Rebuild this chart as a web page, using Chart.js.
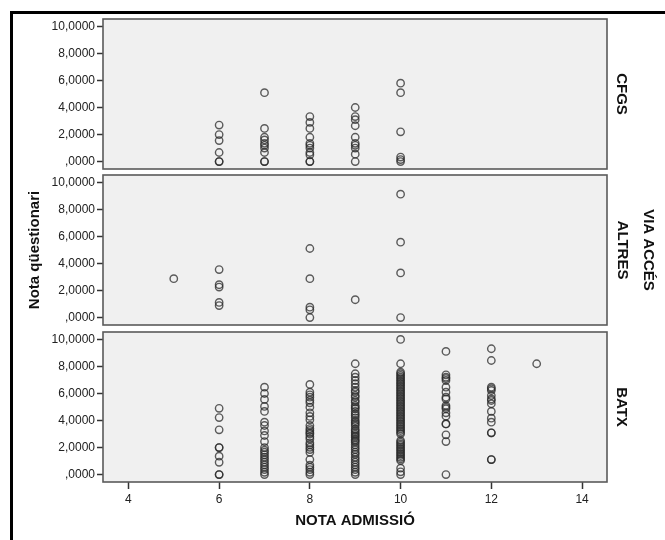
<!DOCTYPE html>
<html>
<head>
<meta charset="utf-8">
<script src="https://cdn.jsdelivr.net/npm/chart.js@4.4.1/dist/chart.umd.min.js"></script>
<style>
  html, body { margin: 0; padding: 0; background: #fff; }
  #page { position: relative; width: 665px; height: 540px; overflow: hidden; background: #fff; }
  #frame { position: absolute; left: 10px; top: 11px; right: 0; bottom: 0;
           border-top: 3px solid #000; border-left: 3px solid #000; }
  canvas { position: absolute; left: 0; }
</style>
</head>
<body>
<div id="page">
  <div id="frame"></div>
  <canvas id="panel-cfgs" width="665" height="174" style="top:7px"></canvas>
  <canvas id="panel-altres" width="665" height="174" style="top:163px"></canvas>
  <canvas id="panel-batx" width="665" height="220" style="top:320px"></canvas>
</div>
<script>
// Axis ticks (SPSS style labels)
const X_TICKS = [4, 6, 8, 10, 12, 14];
const X_TICK_LABELS = ["4", "6", "8", "10", "12", "14"];
const Y_TICKS = [0, 2, 4, 6, 8, 10];
const Y_TICK_LABELS = [",0000", "2,0000", "4,0000", "6,0000", "8,0000", "10,0000"];

// Points per panel: [NOTA ADMISSIÓ, [Nota qüestionari values...]]
const CFGS_POINTS = [
  [6, [2.7, 2.0, 1.55, 0.67, 0, 0]],
  [7, [5.1, 2.45, 1.8, 1.6, 1.35, 1.2, 1.0, 0.67, 0, 0]],
  [8, [3.33, 2.9, 2.45, 1.8, 1.35, 1.2, 1.0, 0.67, 0.5, 0, 0]],
  [9, [4.0, 3.33, 3.1, 2.65, 1.8, 1.35, 1.2, 1.0, 0.55, 0]],
  [10, [5.8, 5.1, 2.2, 0.33, 0.15, 0]],
];

const ALTRES_POINTS = [
  [5, [2.88]],
  [6, [3.55, 2.43, 2.26, 1.12, 0.89]],
  [8, [5.11, 2.88, 0.77, 0.57, 0]],
  [9, [1.32]],
  [10, [9.13, 5.58, 3.3, 0]],
];

const BATX_POINTS = [
  [6, [4.9, 4.22, 3.31, 2.0, 2.0, 1.36, 0.91, 0, 0]],
  [7, [6.47, 6.0, 5.56, 5.04, 4.67, 3.88, 3.63, 3.23, 2.89, 2.44, 2.0, 1.8, 1.65,
       1.46, 1.28, 1.1, 0.91, 0.72, 0.54, 0.37, 0.17, 0]],
  [8, [6.67, 6.1, 5.9, 5.73, 5.5, 5.31, 4.99, 4.57, 4.3, 4.05, 3.63, 3.4, 3.26, 3.1,
       3.01, 2.8, 2.64, 2.35, 2.2, 2.02, 1.85, 1.65, 1.11, 0.7, 0.54, 0.37, 0.17, 0]],
  [9, [8.2, 7.46, 7.21, 6.96, 6.72, 6.47, 6.22, 6.1, 5.85, 5.73, 5.48, 5.36, 5.11,
       4.99, 4.87, 4.67, 4.5, 4.37, 4.2, 4.0, 3.88, 3.75, 3.6, 3.38, 3.26, 3.13, 3.0,
       2.88, 2.76, 2.6, 2.5, 2.39, 2.2, 2.02, 1.85, 1.65, 1.5, 1.28, 1.1, 0.91, 0.72,
       0.54, 0.37, 0.17, 0]],
  [10, [10.0, 8.2, 7.58, 7.46, 7.33, 7.21, 7.09, 6.96, 6.84, 6.72, 6.6, 6.47, 6.35,
        6.22, 6.1, 5.98, 5.85, 5.73, 5.61, 5.48, 5.36, 5.24, 5.11, 4.99, 4.87, 4.74,
        4.62, 4.5, 4.37, 4.25, 4.13, 4.0, 3.88, 3.75, 3.63, 3.5, 3.38, 3.26, 3.13,
        3.01, 2.52, 2.4, 2.27, 2.15, 2.02, 1.9, 1.78, 1.65, 1.53, 1.41, 1.28, 1.16,
        1.04, 0.47, 0.2, 0]],
  [11, [9.11, 7.38, 7.21, 7.1, 6.96, 6.47, 6.1, 5.73, 5.6, 5.11, 4.99, 4.87, 4.57,
        4.32, 3.75, 3.75, 2.94, 2.44, 0]],
  [12, [9.31, 8.44, 6.47, 6.35, 6.22, 5.85, 5.6, 5.48, 5.24, 4.67, 4.17, 3.88, 3.09,
        3.09, 1.11, 1.11]],
  [13, [8.2]],
];

const X_MIN = 3.44, X_MAX = 14.55;
const Y_MIN = -0.55, Y_MAX = 10.55;
const FONT = "'Liberation Sans', Arial, sans-serif";

function toPoints(cols) {
  return cols.flatMap(([x, ys]) => ys.map(y => ({ x, y })));
}

// grey panel background + border, like SPSS
const panelBox = {
  id: "panelBox",
  beforeDraw(chart) {
    const { ctx, chartArea: a } = chart;
    ctx.save();
    ctx.fillStyle = "#f0f0f0";
    ctx.fillRect(a.left, a.top, a.right - a.left, a.bottom - a.top);
    ctx.restore();
  },
  afterDatasetsDraw(chart) {
    const { ctx, chartArea: a } = chart;
    ctx.save();
    ctx.strokeStyle = "#5a5a5a";
    ctx.lineWidth = 1.6;
    ctx.strokeRect(a.left, a.top, a.right - a.left, a.bottom - a.top);
    ctx.restore();
  },
};

function makePanel(id, cols, stripText, stripPad, cfg) {
  const showX = !!cfg.showX;
  return new Chart(document.getElementById(id), {
    type: "scatter",
    data: {
      datasets: [{
        data: toPoints(cols),
        pointRadius: 3.7,
        pointBorderWidth: 1.4,
        pointBorderColor: "rgba(40,40,40,0.75)",
        pointBackgroundColor: "rgba(0,0,0,0)",
        borderColor: "rgba(40,40,40,0.75)",
        backgroundColor: "rgba(0,0,0,0)",
      }],
    },
    options: {
      responsive: false,
      animation: false,
      devicePixelRatio: 1,
      layout: { padding: { top: 12, bottom: cfg.bottomPad, left: 0, right: 0 } },
      plugins: { legend: { display: false }, tooltip: { enabled: false } },
      scales: {
        x: {
          type: "linear",
          min: X_MIN, max: X_MAX,
          display: showX,
          afterBuildTicks: s => { s.ticks = X_TICKS.map(v => ({ value: v })); },
          ticks: {
            callback: (v, i) => X_TICK_LABELS[i],
            font: { family: FONT, size: 12 },
            color: "#222",
            padding: 3,
            maxRotation: 0,
          },
          grid: { drawOnChartArea: false, drawTicks: true, tickLength: 7, tickColor: "#333", tickWidth: 1.5 },
          border: { display: false },
          afterFit: s => { s.height = showX ? 52 : 0; },
          title: {
            display: showX,
            text: "NOTA ADMISSIÓ",
            font: { family: FONT, size: 15, weight: "bold" },
            color: "#111",
            padding: { top: 4, bottom: 4 },
          },
        },
        y: {
          type: "linear",
          position: "left",
          min: Y_MIN, max: Y_MAX,
          afterBuildTicks: s => { s.ticks = Y_TICKS.map(v => ({ value: v })); },
          ticks: {
            callback: (v, i) => Y_TICK_LABELS[i],
            font: { family: FONT, size: 12 },
            color: "#222",
            padding: 2,
          },
          grid: { drawOnChartArea: false, drawTicks: true, tickLength: 6, tickColor: "#333", tickWidth: 1.5 },
          border: { display: false },
          afterFit: s => { s.width = 103; },
          title: {
            display: !!cfg.yTitle,
            text: cfg.yTitle || "",
            font: { family: FONT, size: 15, weight: "bold" },
            color: "#111",
            padding: { top: 26, bottom: 0 },
          },
        },
        strip: {
          type: "linear",
          position: "right",
          display: true,
          ticks: { display: false },
          grid: { display: false },
          border: { display: false },
          afterFit: s => { s.width = 58; },
          title: {
            display: true,
            text: stripText,
            font: { family: FONT, size: 15, weight: "bold", lineHeight: 26 / 15 },
            color: "#111",
            padding: { top: stripPad, bottom: 0 },
          },
        },
      },
    },
    plugins: [panelBox],
  });
}

makePanel("panel-cfgs", CFGS_POINTS, "CFGS", 31, { bottomPad: 12 });
makePanel("panel-altres", ALTRES_POINTS, ["VIA ACCÉS", "ALTRES"], 4, { bottomPad: 12, yTitle: "Nota qüestionari" });
makePanel("panel-batx", BATX_POINTS, "BATX", 31, { bottomPad: 6, showX: true });
</script>
</body>
</html>
